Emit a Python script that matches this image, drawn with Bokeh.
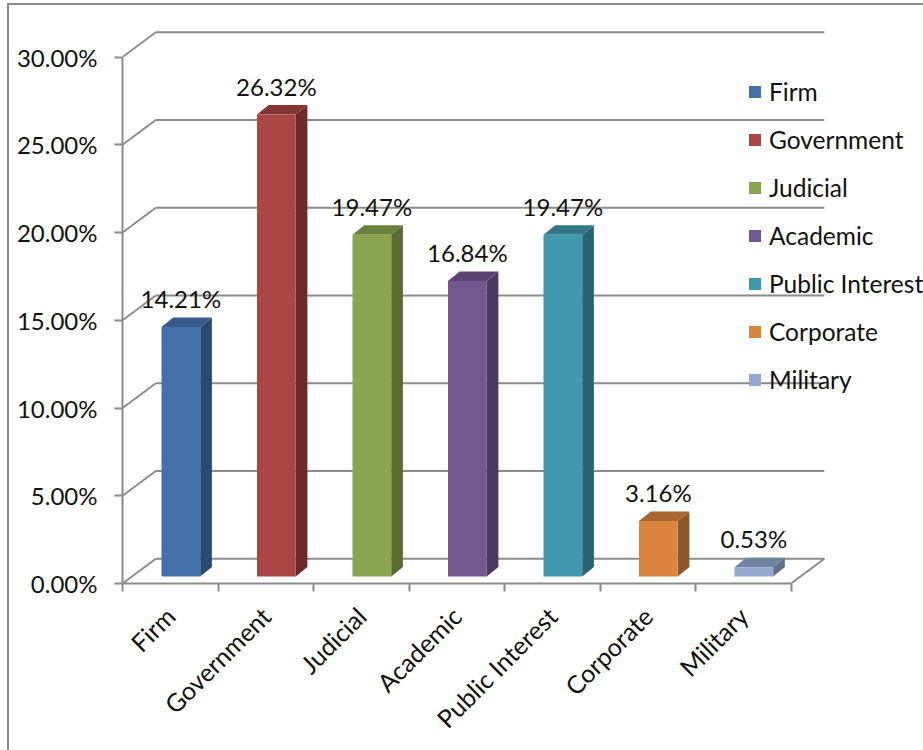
from bokeh.embed import file_html
from bokeh.resources import INLINE
from bokeh.plotting import figure
from bokeh.models import (Range1d, LinearAxis, FixedTicker, PrintfTickFormatter,
                          Legend, LegendItem, ColumnDataSource)
from bokeh.core.properties import value

categories = ["Firm", "Government", "Judicial", "Academic", "Public Interest", "Corporate", "Military"]
values = [14.21, 26.32, 19.47, 16.84, 19.47, 3.16, 0.53]
front_colors = ["#4472A8", "#AA4643", "#89A54E", "#71588F", "#4198AF", "#DB843D", "#93A9CF"]
side_colors = ["#2C4A70", "#6B2B2A", "#5A6C33", "#4A3A5E", "#2A6473", "#8F5627", "#616F88"]
top_colors = ["#375C89", "#843634", "#6A803C", "#58456F", "#327688", "#A9662F", "#7283A0"]
y_ticks = [0, 5, 10, 15, 20, 25, 30]

GRAY = "#8C8C8C"
FONT = "Lato"
SIZE = "24px"
PX_X, PX_Y = 95.5, 17.55         # pixels per category, per percent
WALL_DX, WALL_DY = 33.3 / PX_X, 24.8 / PX_Y
BAR_L, BAR_W = 39.0 / PX_X, 38.7 / PX_X
BAR_Y0 = 7.0 / PX_Y
SIDE_DX, SIDE_DY = 11.7 / PX_X, 9.5 / PX_Y
LABEL_DY = 28.5 / PX_Y

W, H = 923, 750
FRAME_L, FRAME_B = 122, 167
p = figure(width=W, height=H, output_backend="svg", toolbar_location=None,
           x_axis_type=None, y_axis_type=None,
           x_range=Range1d(0, (W - FRAME_L) / PX_X),
           y_range=Range1d(0, (H - FRAME_B) / PX_Y),
           min_border_left=FRAME_L, min_border_right=0, min_border_top=0, min_border_bottom=FRAME_B,
           outline_line_color=None, border_fill_color=None, background_fill_color=None)
# picture border, left and top, behind the transparent canvas
p.styles = {"position": "absolute", "left": "0px", "top": "0px", "background-color": "white",
            "background-image": f"linear-gradient({GRAY},{GRAY}), linear-gradient({GRAY},{GRAY})",
            "background-repeat": "no-repeat",
            "background-size": "2px 747px, 916px 2px",
            "background-position": "7px 3px, 7px 3px"}

# walls and floor
n = len(categories)
x0s = [0 for _ in y_ticks] + [WALL_DX for _ in y_ticks] + [n]
y0s = list(y_ticks) + [t + WALL_DY for t in y_ticks] + [0]
x1s = [WALL_DX for _ in y_ticks] + [n + WALL_DX for _ in y_ticks] + [n + WALL_DX]
y1s = [t + WALL_DY for t in y_ticks] + [t + WALL_DY for t in y_ticks] + [WALL_DY]
p.segment(x0s, y0s, x1s, y1s, line_color=GRAY, line_width=2)

# bars
items = []
for i, (name, v) in enumerate(zip(categories, values)):
    l, r = i + BAR_L, i + BAR_L + BAR_W
    b, t = BAR_Y0, BAR_Y0 + v
    p.patch([r, r + SIDE_DX, r + SIDE_DX, r], [b, b + SIDE_DY, t + SIDE_DY, t], color=side_colors[i], line_width=0)
    p.patch([l, r, r + SIDE_DX, l + SIDE_DX], [t, t, t + SIDE_DY, t + SIDE_DY], color=top_colors[i], line_width=0)
    q = p.quad(left=[l], right=[r], bottom=[b], top=[t], color=front_colors[i], line_width=0)
    items.append(LegendItem(label=name, renderers=[q]))

# data labels
src = ColumnDataSource(dict(
    x=[i + BAR_L + BAR_W / 2 for i in range(n)],
    y=[BAR_Y0 + v + LABEL_DY for v in values],
    t=[f"{v:.2f}%" for v in values]))
p.text("x", "y", text="t", source=src, text_align="center", text_baseline="middle",
       text_font=value(FONT), text_font_size=SIZE, text_color="#111111")

# axes
yax = LinearAxis(ticker=FixedTicker(ticks=y_ticks), formatter=PrintfTickFormatter(format="%.2f%%"),
                 bounds=(0, 30), axis_line_color=GRAY, axis_line_width=2,
                 major_tick_line_color=GRAY, major_tick_line_width=2, major_tick_out=8, major_tick_in=0,
                 minor_tick_out=0, minor_tick_in=0, major_label_standoff=17,
                 major_label_text_font=FONT, major_label_text_font_size=SIZE, major_label_text_color="#111111")
p.add_layout(yax, "left")

xax = LinearAxis(ticker=FixedTicker(ticks=[i + 0.5 for i in range(n)], minor_ticks=list(range(n + 1))),
                 major_label_overrides={i + 0.5: c for i, c in enumerate(categories)},
                 bounds=(0, n), axis_line_color=GRAY, axis_line_width=2,
                 major_tick_out=0, major_tick_in=0,
                 minor_tick_line_color=GRAY, minor_tick_line_width=2, minor_tick_out=8, minor_tick_in=0,
                 major_label_orientation=0.785, major_label_standoff=20,
                 major_label_text_font=FONT, major_label_text_font_size="25px", major_label_text_color="#111111")
p.add_layout(xax, "below")

legend = Legend(items=items, location=(625, 189), orientation="vertical",
                border_line_color=None, background_fill_alpha=0,
                glyph_width=15, glyph_height=15, label_standoff=7, spacing=19, padding=0, margin=0,
                label_text_font=FONT, label_text_font_size="24.5px", label_text_color="#111111")
p.add_layout(legend, "center")

open("out.html", "w").write(file_html(p, INLINE))
